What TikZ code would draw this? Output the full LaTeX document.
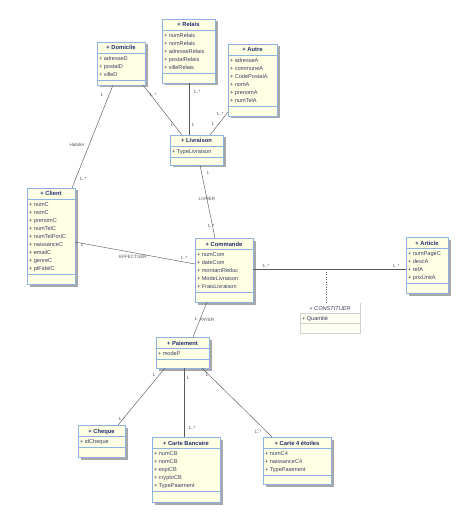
\documentclass[tikz,border=0pt]{standalone}
\usepackage{fontspec}
\setmainfont{Liberation Sans}
\usetikzlibrary{calc}
\definecolor{cfill}{HTML}{FFFFE3}
\definecolor{cline}{HTML}{8DB2E3}
\definecolor{ctitle}{HTML}{202C6E}
\definecolor{ctext}{HTML}{3A3F60}
\definecolor{shad}{HTML}{A8A8A8}
\definecolor{conn}{HTML}{5A5A5A}
\definecolor{lblc}{HTML}{555555}
\tikzset{
  cbox/.style={draw=cline, fill=cfill, line width=0.6pt, inner sep=0pt, outer sep=0pt},
  csep/.style={draw=cline, line width=0.5pt},
  shadowc/.style={fill=shad},
  ctitlet/.style={font=\fontsize{5.8}{7}\selectfont\bfseries, text=ctitle, inner sep=0pt},
  cattr/.style={font=\fontsize{5.6}{7}\selectfont, text=ctext, inner sep=0pt},
  conline/.style={draw=conn, line width=0.45pt},
  lbl/.style={font=\fontsize{4.6}{5}\selectfont, text=lblc, inner sep=0pt},
}
\newcommand{\umlc}[8]{%
  \fill[shadowc] (#2+2.5,#3+2.5) rectangle (#2+#4+2.5,#3+#5+2.5);
  \node[cbox, minimum width=#4pt, minimum height=#5pt, anchor=north west] (#1) at (#2,#3) {};
  \draw[csep] (#2,#3+11) -- (#2+#4,#3+11);
  \draw[csep] (#2,#3+11+#7*8+3) -- (#2+#4,#3+11+#7*8+3);
  \node[ctitlet, anchor=base] (#1t) at (#2+#4/2,#3+8) {+ #6};
  \foreach \r [count=\i] in {#8} \node[cattr, anchor=base west] (#1a\i) at (#2+1.8,#3+11+\i*8-0.5) {+ \r};
}
\begin{document}
\begin{tikzpicture}[x=1pt,y=-1pt]
\useasboundingbox (0,0) rectangle (475,526);
% classes
\umlc{dom}{97}{42}{48}{43}{Domicile}{3}{adresseD,postalD,villeD}
\umlc{rel}{162}{19}{53}{64}{Relais}{5}{numRelais,nomRelais,adresseRelais,postalRelais,villeRelais}
\umlc{aut}{228}{44}{49}{72}{Autre}{6}{adresseA,communeA,CodePostalA,nomA,prenomA,numTelA}
\umlc{liv}{170}{135}{53}{30}{Livraison}{1}{TypeLivraison}
\umlc{cli}{27}{188}{48}{96}{Client}{9}{numC,nomC,prenomC,numTelC,numTelPortC,naissanceC,emailC,genreC,ptFidelC}
\umlc{com}{195}{238}{58}{64}{Commande}{5}{numCom,dateCom,montantReduc,ModeLivraison,FraisLivraison}
\umlc{art}{406}{237}{42}{56}{Article}{4}{numPageC,descA,refA,prixUnitA}
\umlc{pai}{156}{337}{53}{31}{Paiement}{1}{modeP}
\umlc{che}{78}{425}{47}{32}{Cheque}{1}{idCheque}
\umlc{cb}{152}{437}{68}{65}{Carte Bancaire}{5}{numCB,nomCB,expiCB,cryptoCB,TypePaiement}
\umlc{c4}{263}{437}{68}{47}{Carte 4 étoiles}{3}{numC4,naissanceC4,TypePaiement}
% association class
\node[draw=black!18, fill=cfill!40, line width=0.5pt, inner sep=0pt, minimum width=60pt, minimum height=30pt, anchor=north west] (cons) at (300,303) {};
\fill[white] (300.3,303.3) rectangle (359.7,312.8);
\draw[draw=black!18, line width=0.5pt] (300,313) -- (360,313);
\draw[draw=black!18, line width=0.5pt] (300,323) -- (360,323);
\node[font=\fontsize{5.6}{7}\selectfont\itshape, text=ctext, inner sep=0pt, anchor=base] (const) at (330,310.5) {+ CONSTITUER};
\node[cattr, anchor=base west] (consa) at (301.8,320.5) {+ Quantité};
% connectors
\draw[conline] ($(dom.south west)+(16,0)$) -- ($(cli.north west)+(45,0)$);
\draw[conline] ($(dom.south east)+(-2,0)$) -- ($(liv.north west)+(12,0)$);
\draw[conline] ($(rel.south west)+(27,0)$) -- ($(liv.north west)+(19,0)$);
\draw[conline] ($(aut.south west)+(0,-4)$) -- ($(liv.north west)+(40,0)$);
\draw[conline] ($(liv.south west)+(30,0)$) -- ($(com.north west)+(20,0)$);
\draw[conline] ($(cli.north east)+(0,54)$) -- ($(com.north west)+(0,26)$);
\draw[conline] ($(com.north east)+(0,31)$) -- ($(art.north west)+(0,32)$);
\coordinate (cj) at (326,269);
\draw[conn, line width=0.5pt, dotted] (cj) -- ($(cons.north west)+(26,0)$);
\draw[conline] ($(com.south west)+(12,0)$) -- ($(pai.north west)+(37,0)$);
\draw[conline] ($(pai.south west)+(9,0)$) -- ($(che.north west)+(40,0)$);
\draw[conline] ($(pai.south west)+(28,0)$) -- ($(cb.north west)+(32,0)$);
\draw[conline] ($(pai.south west)+(46,0)$) -- ($(c4.north west)+(9,0)$);
% labels
\node[lbl] (m1) at (102,95) {1};
\node[lbl] (m2) at (77,145) {Habiter};
\node[lbl] (m3) at (83,179) {1..*};
\node[lbl] (m4) at (153,95) {1..*};
\node[lbl] (m5) at (172,125) {1};
\node[lbl] (m6) at (197,92) {1..*};
\node[lbl] (m7) at (193,125) {1};
\node[lbl] (m8) at (220,114) {1..*};
\node[lbl] (m9) at (213,124) {1};
\node[lbl] (m10) at (208,173) {1};
\node[lbl] (m11) at (207,199) {LIVRER};
\node[lbl] (m12) at (211,226) {1..*};
\node[lbl] (m13) at (82,245) {1};
\node[lbl] (m14) at (133,257) {EFFECTUER};
\node[lbl] (m15) at (184,258) {1..*};
\node[lbl] (m16) at (266,266) {1..*};
\node[lbl] (m17) at (396,266) {1..*};
\node[lbl] (m18) at (207,320) {PAYER};
\node[lbl] (m19) at (196,319) {1};
\node[lbl] (m20) at (154,375) {1};
\node[lbl] (m21) at (122,419) {1..*};
\node[lbl] (m22) at (188,378) {1};
\node[lbl] (m23) at (192,428) {1..*};
\node[lbl] (m24) at (207,375) {1};
\node[lbl] (m25) at (258,432) {1..*};
\end{tikzpicture}
\end{document}
